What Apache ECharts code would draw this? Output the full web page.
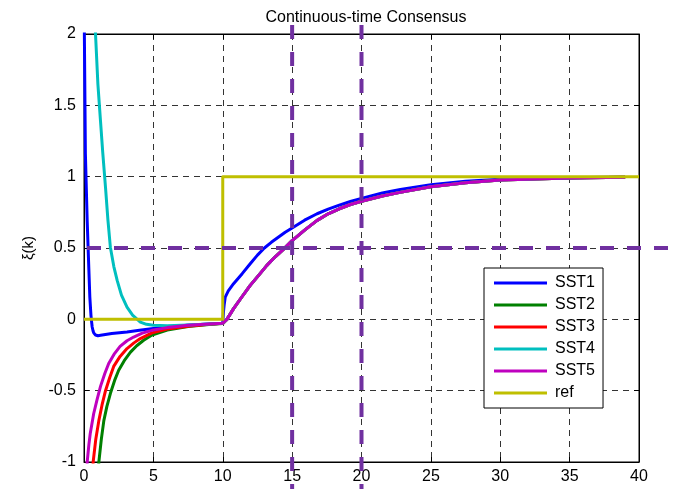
<!DOCTYPE html>
<html>
<head>
<meta charset="utf-8">
<script src="https://cdn.jsdelivr.net/npm/echarts@6/dist/echarts.min.js"></script>
<style>
  html, body { margin: 0; padding: 0; background: #fff; }
  #consensus { width: 676px; height: 489px; }
</style>
</head>
<body>
<div id="consensus"></div>
<script>
  // values, [t, xi]
  const sst1 = [[0, 2.3], [0.1, 1.16], [0.23, 0.69], [0.35, 0.35], [0.42, 0.156], [0.5, 0.03], [0.55, -0.02],
    [0.59, -0.054], [0.65, -0.08], [0.7, -0.095], [0.83, -0.11], [1.0, -0.115], [1.2, -0.112], [2, -0.1],
    [3.1, -0.089], [4, -0.077], [5, -0.065], [6, -0.055], [7.4, -0.042], [8.7, -0.034], [10, -0.027],
    [10.05, 0.05], [10.1, 0.1], [10.18, 0.156], [10.4, 0.2], [10.78, 0.25], [11.4, 0.32], [11.98, 0.39],
    [12.5, 0.45], [13, 0.5], [13.5, 0.54], [14, 0.575], [14.5, 0.61], [15, 0.64], [15.9, 0.695], [16.8, 0.74],
    [17.6, 0.772], [18.4, 0.8], [19.2, 0.826], [20, 0.848], [21.5, 0.885], [22.8, 0.91], [25, 0.944],
    [27.5, 0.968], [30, 0.982], [35, 0.993], [39, 0.997]];
  const sst2Start = [[0.8, -1.5], [1.07, -1], [1.25, -0.84], [1.43, -0.71], [1.65, -0.61], [1.9, -0.52],
    [2.2, -0.43], [2.5, -0.357], [2.9, -0.29], [3.35, -0.23], [3.8, -0.185], [4.3, -0.147], [4.9, -0.11],
    [6, -0.075], [7.5, -0.05], [9, -0.036], [10, -0.03]];
  const sst3Start = [[0.4, -1.5], [0.66, -1], [0.85, -0.84], [1.07, -0.71], [1.3, -0.6], [1.55, -0.5],
    [1.85, -0.41], [2.14, -0.33], [2.6, -0.26], [3.1, -0.205], [3.6, -0.165], [4.06, -0.135], [4.9, -0.095],
    [6, -0.068], [7.5, -0.048], [9, -0.035], [10, -0.028]];
  const sst4Start = [[0.6, 2.6], [0.83, 2.0], [1.0, 1.65], [1.19, 1.39], [1.35, 1.17], [1.55, 0.925],
    [1.72, 0.7], [1.9, 0.506], [2.15, 0.37], [2.39, 0.273], [2.7, 0.17], [3.1, 0.086], [3.5, 0.03],
    [4.06, -0.019], [4.5, -0.035], [5, -0.042], [6, -0.045], [7.5, -0.04], [9, -0.032], [10, -0.027]];
  const sst5Start = [[0, -1.6], [0.23, -1], [0.35, -0.88], [0.45, -0.8], [0.7, -0.66], [0.95, -0.56],
    [1.19, -0.47], [1.5, -0.38], [1.78, -0.31], [2.2, -0.24], [2.6, -0.19], [3.1, -0.15], [3.58, -0.124],
    [4.2, -0.097], [4.9, -0.077], [6, -0.058], [7.5, -0.042], [9, -0.032], [10, -0.027]];
  // SST2..SST5 lie on top of each other after the step
  const riseAfterStep = [[10.3, 0.0], [10.78, 0.075], [11.4, 0.16], [11.98, 0.238], [12.6, 0.31],
    [13.18, 0.378], [13.8, 0.44], [14.37, 0.49], [15, 0.552], [15.9, 0.625], [16.78, 0.692], [17.6, 0.74],
    [18.4, 0.775], [19.2, 0.805], [20, 0.828], [21.5, 0.865], [22.77, 0.89], [25, 0.93], [27.5, 0.958],
    [30, 0.976], [35, 0.99], [39, 0.996]];
  const ref = [[0, 0], [10, 0], [10, 1], [40, 1]];

  const names = ['SST1', 'SST2', 'SST3', 'SST4', 'SST5', 'ref'];
  const colors = ['#0000ff', '#008000', '#ff0000', '#00bfbf', '#bf00bf', '#bfbf00'];
  const xTicks = [0, 40, 5];
  const yTicks = [-1, 2, 0.5];
  const markX = [15, 20];
  const markY = [0.5];

  const seriesData = [sst1, sst2Start.concat(riseAfterStep), sst3Start.concat(riseAfterStep),
    sst4Start.concat(riseAfterStep), sst5Start.concat(riseAfterStep), ref];

  const font = 'Liberation Sans, Arial, sans-serif';
  let myChart = echarts.init(document.getElementById('consensus'));

  const axisCommon = {
    axisLine: {show: true, onZero: false, lineStyle: {color: '#000', width: 1}},
    axisTick: {show: true, inside: true, length: 5, lineStyle: {color: '#000'}},
  };

  myChart.setOption({
    animation: false,
    backgroundColor: '#fff',
    title: {
      text: 'Continuous-time Consensus',
      left: 361, top: 5, textAlign: 'center',
      textStyle: {fontFamily: font, fontSize: 16, fontWeight: 'normal', color: '#000'}
    },
    grid: {left: 84, right: 37, top: 34, bottom: 27, show: true, borderColor: '#000', borderWidth: 1},
    xAxis: [{
      type: 'value', min: xTicks[0], max: xTicks[1], interval: xTicks[2],
      ...axisCommon,
      axisLabel: {fontFamily: font, fontSize: 16, color: '#000', margin: 7},
      splitLine: {show: true, lineStyle: {color: '#333', type: [6, 5], width: 1}}
    }, {
      type: 'value', position: 'top', min: xTicks[0], max: xTicks[1], interval: xTicks[2],
      ...axisCommon, axisLabel: {show: false}, splitLine: {show: false}
    }],
    yAxis: [{
      type: 'value', min: yTicks[0], max: yTicks[1], interval: yTicks[2],
      name: 'ξ(k)', nameLocation: 'middle', nameGap: 48, nameRotate: 90,
      nameTextStyle: {fontFamily: font, fontSize: 15, color: '#000'},
      ...axisCommon,
      axisLabel: {fontFamily: font, fontSize: 16, color: '#000', margin: 8},
      splitLine: {show: true, lineStyle: {color: '#333', type: [6, 5], width: 1}}
    }, {
      type: 'value', position: 'right', min: yTicks[0], max: yTicks[1], interval: yTicks[2],
      ...axisCommon, axisLabel: {show: false}, splitLine: {show: false}
    }],
    legend: {
      data: names,
      orient: 'vertical',
      left: 484, top: 268,
      backgroundColor: '#fff', borderColor: '#000', borderWidth: 1,
      padding: [7, 8, 7, 10],
      icon: 'rect', itemWidth: 53, itemHeight: 3, itemGap: 6,
      textStyle: {fontFamily: font, fontSize: 16, color: '#000', lineHeight: 16, padding: [0, 0, 0, 3]}
    },
    series: names.map((name, i) => ({
      name: name,
      type: 'line',
      data: seriesData[i],
      showSymbol: false,
      symbol: 'none',
      clip: true,
      color: colors[i],
      lineStyle: {color: colors[i], width: 3, join: 'round'}
    }))
  });

  // purple dashed guides, drawn over everything and running past the axes
  const guide = {stroke: '#7030a0', lineWidth: 4, lineDash: [14, 13]};
  const x0 = myChart.convertToPixel({xAxisIndex: 0}, xTicks[0]);
  let guides = [];
  markX.forEach(v => {
    const px = myChart.convertToPixel({xAxisIndex: 0}, v);
    guides.push({type: 'line', z: 100, shape: {x1: px, y1: 25, x2: px, y2: 489}, style: guide});
  });
  markY.forEach(v => {
    const py = myChart.convertToPixel({yAxisIndex: 0}, v);
    guides.push({type: 'line', z: 100, shape: {x1: x0 + 3, y1: py, x2: 676, y2: py}, style: guide});
  });
  myChart.setOption({graphic: guides});
</script>
</body>
</html>
